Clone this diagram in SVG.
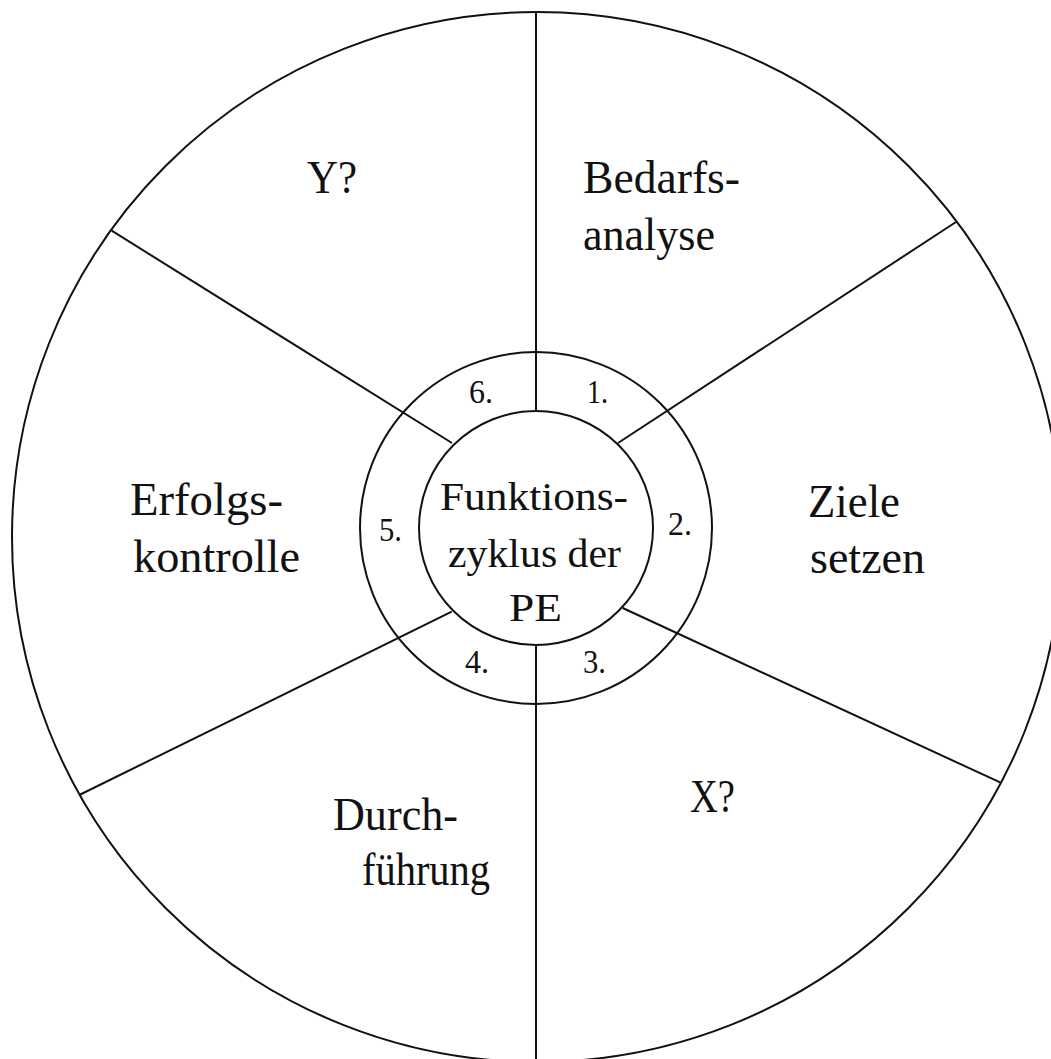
<svg xmlns="http://www.w3.org/2000/svg" width="1051" height="1059" viewBox="0 0 1051 1059">
<style>
.ln{fill:none;stroke:#111;stroke-width:2}
.lbl{font-family:"Liberation Serif","Times New Roman",serif;font-size:46px;fill:#111}
.ctr{font-family:"Liberation Serif","Times New Roman",serif;font-size:40px;fill:#111}
.num{font-family:"Liberation Serif","Times New Roman",serif;font-size:33px;fill:#111}
</style>
<rect width="1051" height="1059" fill="#fff"/>
<g id="connectors">
<circle class="ln" cx="537" cy="537" r="525"/>
<line class="ln" x1="536" y1="12" x2="536" y2="411"/>
<line class="ln" x1="536" y1="645" x2="536" y2="1062"/>
<line class="ln" x1="618" y1="443" x2="956" y2="222"/>
<line class="ln" x1="452" y1="443" x2="111.7" y2="230.7"/>
<line class="ln" x1="622.7" y1="608" x2="1000.7" y2="782.7"/>
<line class="ln" x1="451.7" y1="611.7" x2="79.3" y2="795"/>
<circle class="ln" cx="536" cy="528" r="176"/>
</g>
<g id="center">
<circle class="ln" cx="536" cy="528" r="117" fill="#fff"/>
<text class="ctr" x="440" y="510" textLength="188" lengthAdjust="spacingAndGlyphs">Funktions-</text>
<text class="ctr" x="448" y="567" textLength="173" lengthAdjust="spacingAndGlyphs">zyklus der</text>
<text class="ctr" x="509" y="621" textLength="53" lengthAdjust="spacingAndGlyphs">PE</text>
</g>
<g id="n1"><text class="num" x="587" y="403" textLength="21" lengthAdjust="spacingAndGlyphs">1.</text></g>
<g id="n2"><text class="num" x="668" y="535" textLength="24" lengthAdjust="spacingAndGlyphs">2.</text></g>
<g id="n3"><text class="num" x="583" y="673" textLength="23" lengthAdjust="spacingAndGlyphs">3.</text></g>
<g id="n4"><text class="num" x="465" y="673" textLength="24" lengthAdjust="spacingAndGlyphs">4.</text></g>
<g id="n5"><text class="num" x="379" y="541" textLength="23" lengthAdjust="spacingAndGlyphs">5.</text></g>
<g id="n6"><text class="num" x="469" y="403" textLength="24" lengthAdjust="spacingAndGlyphs">6.</text></g>
<g id="seg1">
<text class="lbl" x="583" y="193" textLength="157" lengthAdjust="spacingAndGlyphs">Bedarfs-</text>
<text class="lbl" x="583" y="250" textLength="132" lengthAdjust="spacingAndGlyphs">analyse</text>
</g>
<g id="seg2">
<text class="lbl" x="808" y="517" textLength="92" lengthAdjust="spacingAndGlyphs">Ziele</text>
<text class="lbl" x="810" y="573" textLength="115" lengthAdjust="spacingAndGlyphs">setzen</text>
</g>
<g id="seg3">
<text class="lbl" x="690" y="812" textLength="45" lengthAdjust="spacingAndGlyphs">X?</text>
</g>
<g id="seg4">
<text class="lbl" x="333" y="830" textLength="125" lengthAdjust="spacingAndGlyphs">Durch-</text>
<text class="lbl" x="362" y="885" textLength="128" lengthAdjust="spacingAndGlyphs">führung</text>
</g>
<g id="seg5">
<text class="lbl" x="130" y="515" textLength="153" lengthAdjust="spacingAndGlyphs">Erfolgs-</text>
<text class="lbl" x="133" y="572" textLength="167" lengthAdjust="spacingAndGlyphs">kontrolle</text>
</g>
<g id="seg6">
<text class="lbl" x="307" y="193" textLength="50" lengthAdjust="spacingAndGlyphs">Y?</text>
</g>
</svg>
